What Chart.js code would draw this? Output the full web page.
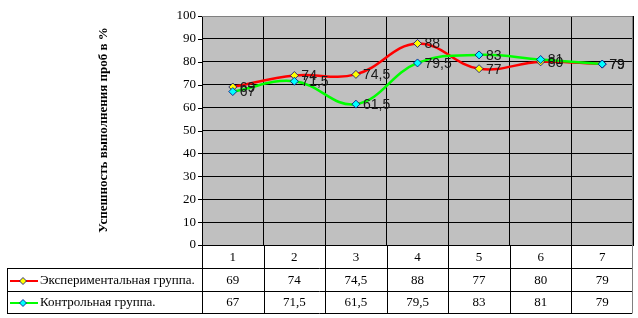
<!DOCTYPE html>
<html><head><meta charset="utf-8">
<script src="https://cdn.jsdelivr.net/npm/chart.js@4"></script>
<style>html,body{margin:0;padding:0;background:#fff}#wrap{width:638px;height:318px;position:relative}</style>
</head><body><div id="wrap"><canvas id="c" width="638" height="318"></canvas></div>
<script>
const categories = ['1','2','3','4','5','6','7'];
const seriesNames = ['Экспериментальная группа.', 'Контрольная группа.'];
const experimental = [69, 74, 74.5, 88, 77, 80, 79];
const control = [67, 71.5, 61.5, 79.5, 83, 81, 79];
const yTicks = [0,10,20,30,40,50,60,70,80,90,100];
const yTitle = 'Успешность выполнения проб в %';

const lineColors = ['#FF0000', '#00FF00'];
const markerColors = ['#FFFF00', '#00FFFF'];
const fmt = v => String(v).replace('.', ',');

const TABLE_LEFT = 7;
const ROW_Y = [245, 268, 291, 313];

const bgPlugin = {
  id: 'bg',
  beforeDraw(chart) {
    const {ctx, chartArea: a} = chart;
    ctx.save();
    ctx.fillStyle = '#C0C0C0';
    ctx.fillRect(a.left, a.top, a.right - a.left, a.bottom - a.top);
    ctx.restore();
  },
  afterDraw(chart) {
    const {ctx, chartArea: a} = chart;
    const x = chart.scales.x;
    ctx.save();
    // plot border top/right
    ctx.strokeStyle = '#808080';
    ctx.lineWidth = 1;
    ctx.beginPath();
    ctx.moveTo(a.left, a.top + 0.5); ctx.lineTo(a.right - 0.5, a.top + 0.5);
    ctx.lineTo(a.right - 0.5, ROW_Y[3] + 0.5);
    ctx.stroke();
    // table lines
    ctx.strokeStyle = '#000';
    ctx.beginPath();
    for (let r = 1; r < 4; r++) {
      ctx.moveTo(TABLE_LEFT, ROW_Y[r] + 0.5); ctx.lineTo(a.right - 1, ROW_Y[r] + 0.5);
    }
    ctx.moveTo(TABLE_LEFT + 0.5, ROW_Y[1]); ctx.lineTo(TABLE_LEFT + 0.5, ROW_Y[3] + 1);
    const n = categories.length;
    for (let i = 0; i < n; i++) {
      const cx = x.getPixelForValue(i);
      const w = (a.right - a.left) / n;
      const bx = Math.round(cx - w / 2) + 0.5;
      ctx.moveTo(bx, ROW_Y[0]); ctx.lineTo(bx, ROW_Y[3] + 1);
    }
    ctx.stroke();
    // y tick marks
    const y = chart.scales.y;
    ctx.beginPath();
    yTicks.forEach(t => {
      const py = Math.round(y.getPixelForValue(t)) + 0.5;
      ctx.moveTo(a.left - 4, py); ctx.lineTo(a.left, py);
    });
    ctx.stroke();
    // table texts
    ctx.fillStyle = '#000';
    ctx.font = '13px "Liberation Serif", "Times New Roman", serif';
    ctx.textAlign = 'center';
    ctx.textBaseline = 'middle';
    const data = [experimental, control];
    for (let i = 0; i < n; i++) {
      const cx = x.getPixelForValue(i);
      ctx.fillText(categories[i], cx, (ROW_Y[0] + ROW_Y[1]) / 2 + 1);
      ctx.fillText(fmt(data[0][i]), cx, (ROW_Y[1] + ROW_Y[2]) / 2 + 1);
      ctx.fillText(fmt(data[1][i]), cx, (ROW_Y[2] + ROW_Y[3]) / 2 + 1);
    }
    // legend keys
    for (let s = 0; s < 2; s++) {
      const cy = Math.round((ROW_Y[s + 1] + ROW_Y[s + 2]) / 2) + 1;
      ctx.strokeStyle = lineColors[s];
      ctx.lineWidth = 2;
      ctx.beginPath(); ctx.moveTo(10, cy); ctx.lineTo(38, cy); ctx.stroke();
      ctx.fillStyle = markerColors[s];
      ctx.strokeStyle = '#000080';
      ctx.lineWidth = 0.8;
      ctx.beginPath();
      ctx.moveTo(23, cy - 3.5); ctx.lineTo(26.5, cy); ctx.lineTo(23, cy + 3.5); ctx.lineTo(19.5, cy); ctx.closePath();
      ctx.fill(); ctx.stroke();
      ctx.fillStyle = '#000';
      ctx.textAlign = 'left';
      ctx.fillText(seriesNames[s], 40, cy);
    }
    // y title
    ctx.save();
    ctx.translate(104, 130);
    ctx.rotate(-Math.PI / 2);
    ctx.font = 'bold 13px "Liberation Serif", "Times New Roman", serif';
    ctx.textAlign = 'center';
    ctx.textBaseline = 'middle';
    ctx.fillStyle = '#000';
    ctx.fillText(yTitle, 0, 0);
    ctx.restore();
    // data labels
    ctx.font = '14px "Liberation Sans", Arial, sans-serif';
    ctx.textAlign = 'left';
    ctx.textBaseline = 'middle';
    ctx.fillStyle = '#1a1a1a';
    [0, 1].forEach(s => {
      const meta = chart.getDatasetMeta(s);
      meta.data.forEach((pt, i) => {
        ctx.fillText(fmt(chart.data.datasets[s].data[i]), pt.x + 7, pt.y + 1);
      });
    });
    ctx.restore();
  }
};

new Chart(document.getElementById('c'), {
  type: 'line',
  data: {
    labels: categories,
    datasets: [
      { label: seriesNames[0], data: experimental, borderColor: lineColors[0], borderWidth: 2.5,
        pointStyle: 'rectRot', pointRadius: 4, pointBackgroundColor: markerColors[0],
        pointBorderColor: '#000080', pointBorderWidth: 0.8, tension: 0.4, order: 1 },
      { label: seriesNames[1], data: control, borderColor: lineColors[1], borderWidth: 2.5,
        pointStyle: 'rectRot', pointRadius: 4, pointBackgroundColor: markerColors[1],
        pointBorderColor: '#000080', pointBorderWidth: 0.8, tension: 0.4, order: 0 }
    ]
  },
  options: {
    responsive: false,
    animation: false,
    layout: { padding: { left: 0, right: 5, top: 16, bottom: 0 } },
    plugins: { legend: { display: false }, tooltip: { enabled: false } },
    scales: {
      x: {
        offset: true,
        grid: { offset: true, color: '#000', lineWidth: 1, drawTicks: false },
        border: { color: '#000' },
        ticks: { display: false },
        afterFit: s => { s.height = 73; }
      },
      y: {
        min: 0, max: 100,
        afterBuildTicks: s => { s.ticks = yTicks.map(v => ({ value: v })); },
        grid: { color: '#000', lineWidth: 1, drawTicks: false },
        border: { color: '#000' },
        ticks: { color: '#000', padding: 6, font: { family: '"Liberation Serif", "Times New Roman", serif', size: 13 } },
        afterFit: s => { s.width = 202; }
      }
    }
  },
  plugins: [bgPlugin]
});
</script></body></html>
